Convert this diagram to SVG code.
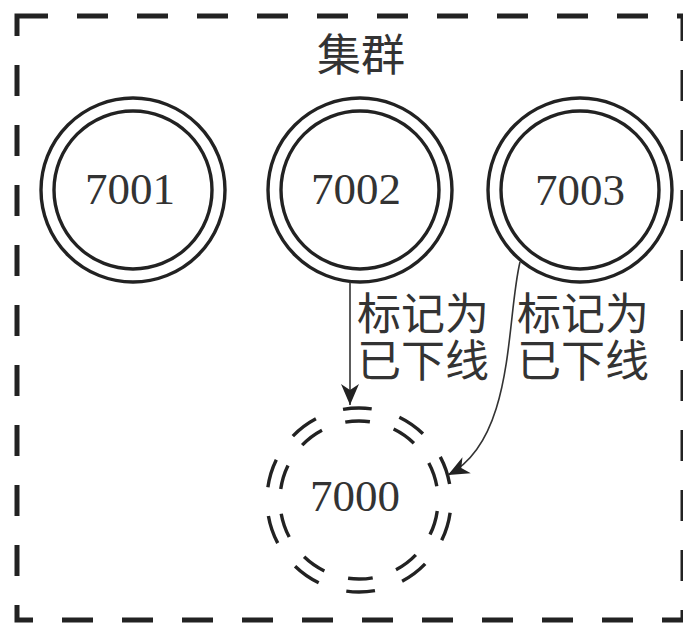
<svg xmlns="http://www.w3.org/2000/svg" width="683" height="624" viewBox="0 0 683 624">
<style>
.ring{fill:none;stroke:#222;stroke-width:3.4}
.dring{fill:none;stroke:#222;stroke-width:3.4;stroke-dasharray:5 5}
.num{font-family:"Liberation Serif","Times New Roman",serif;font-size:45px;fill:#333;text-anchor:middle}
.cjk{font-family:"Noto Sans CJK SC","Noto Sans",sans-serif;font-size:44px;fill:#333}
.conn{fill:none;stroke:#333;stroke-width:1.6}
</style>
<defs>
<marker id="ah" markerUnits="userSpaceOnUse" markerWidth="24" markerHeight="22" viewBox="-22 -10 24 20" refX="0" refY="0" orient="auto">
<path d="M0,0 L-21,-9 L-15,0 L-21,9 Z" fill="#222"/>
</marker>
</defs>
<rect x="17" y="16" width="666" height="604" fill="none" stroke="#222" stroke-width="5" stroke-dasharray="31 29"/>
<text class="cjk" x="317" y="71">集群</text>
<g id="node-7001">
<circle class="ring" cx="133" cy="190" r="92"/>
<circle class="ring" cx="133" cy="190" r="79"/>
<text class="num" x="130" y="204">7001</text>
</g>
<g id="node-7002">
<circle class="ring" cx="360" cy="190" r="92"/>
<circle class="ring" cx="360" cy="190" r="79"/>
<text class="num" x="356" y="204">7002</text>
</g>
<g id="node-7003">
<circle class="ring" cx="580" cy="190" r="92"/>
<circle class="ring" cx="580" cy="190" r="79"/>
<text class="num" x="580" y="205">7003</text>
</g>
<g id="node-7000">
<circle class="dring" cx="359" cy="500" r="92" pathLength="100" transform="rotate(-100 359 500)"/>
<circle class="dring" cx="359" cy="500" r="79" pathLength="100" transform="rotate(-100 359 500)"/>
<text class="num" x="355" y="511">7000</text>
</g>
<g id="connectors">
<path class="conn" d="M350,282 L350,405" marker-end="url(#ah)"/>
<path class="conn" d="M520,262 C506,320 515,440 448,475" marker-end="url(#ah)"/>
<text class="cjk" x="357" y="330">标记为<tspan x="357" y="377">已下线</tspan></text>
<text class="cjk" x="517" y="330">标记为<tspan x="517" y="377">已下线</tspan></text>
</g>
</svg>
